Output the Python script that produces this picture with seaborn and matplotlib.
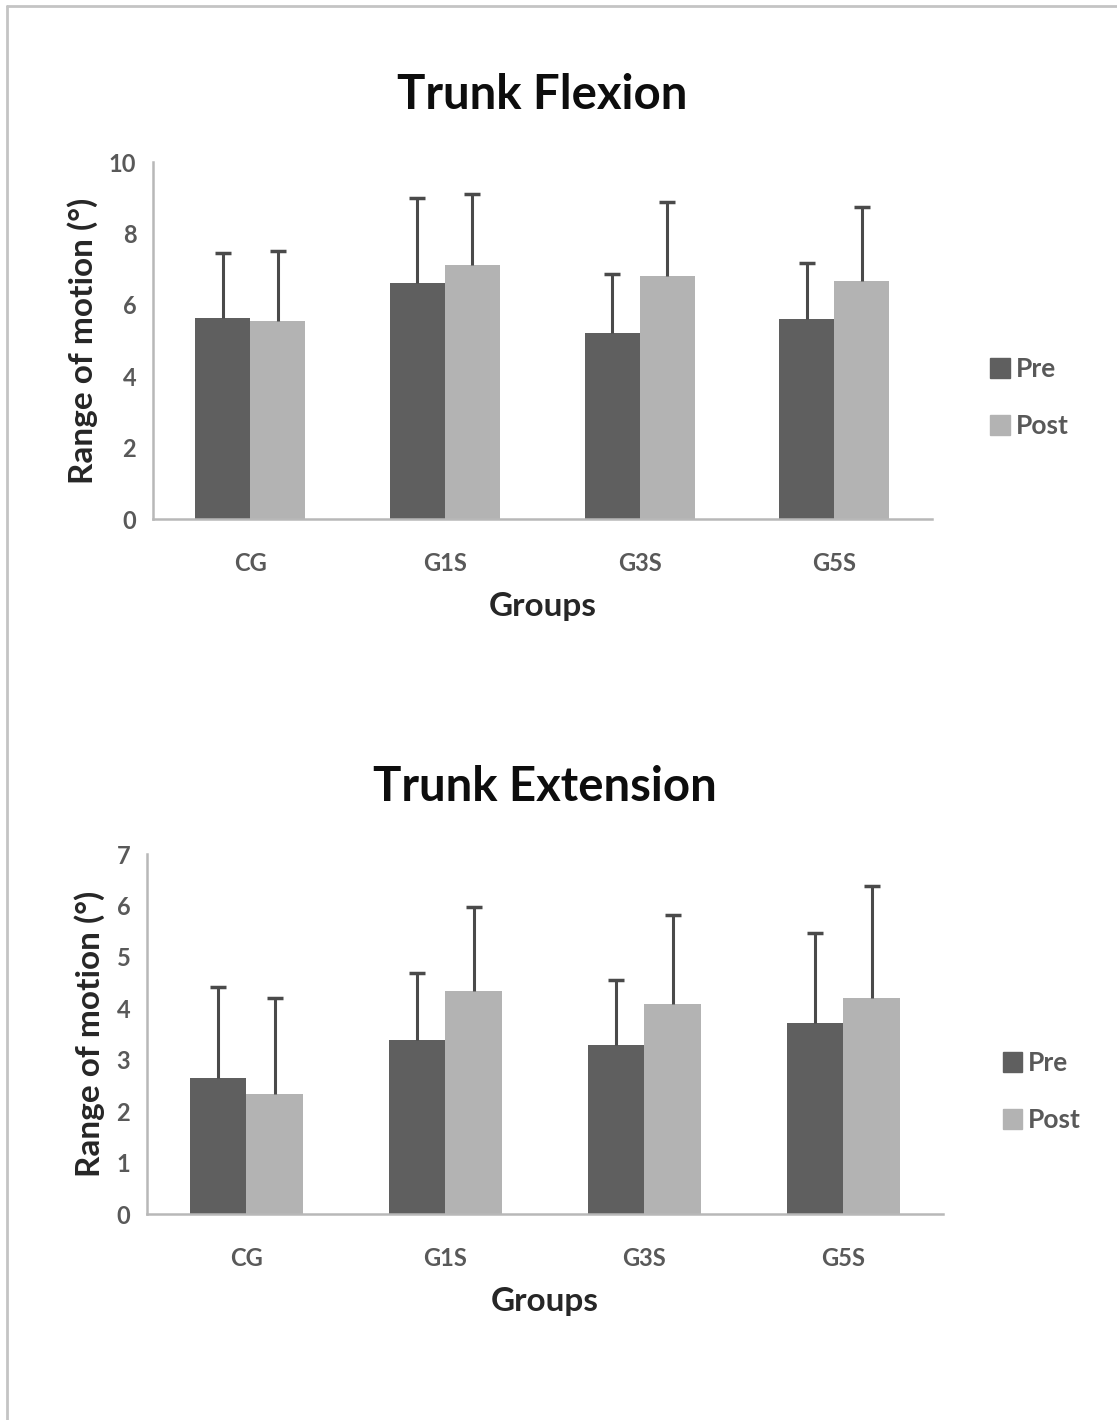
import matplotlib
matplotlib.use('Agg')
import matplotlib.pyplot as plt
import seaborn as sns
import pandas as pd
from matplotlib.lines import Line2D
from matplotlib.patches import Patch

groups = ['CG', 'G1S', 'G3S', 'G5S']
phases = ['Pre', 'Post']

flex_pre = [5.63, 6.61, 5.21, 5.60]
flex_post = [5.55, 7.11, 6.80, 6.67]
flex_pre_sd = [1.82, 2.39, 1.65, 1.57]
flex_post_sd = [1.95, 1.99, 2.08, 2.07]

ext_pre = [2.65, 3.38, 3.29, 3.72]
ext_post = [2.33, 4.34, 4.09, 4.20]
ext_pre_sd = [1.77, 1.31, 1.26, 1.75]
ext_post_sd = [1.87, 1.63, 1.73, 2.18]

colors = {'Pre': '#5f5f5f', 'Post': '#b3b3b3'}
tick_color = '#595959'
font = ['Lato', 'DejaVu Sans']

sns.set_style('white')
plt.rcParams['font.family'] = font


def draw_panel(ax, pre, post, pre_sd, post_sd, title, ymax):
    df = pd.DataFrame({
        'Group': groups * 2,
        'Phase': ['Pre'] * 4 + ['Post'] * 4,
        'Value': pre + post,
    })
    sns.barplot(data=df, x='Group', y='Value', hue='Phase', order=groups,
                hue_order=phases, palette=colors, width=0.565, gap=0,
                errorbar=None, saturation=1, linewidth=0, ax=ax, legend=False)
    for cont, sd, vals in zip(ax.containers, [pre_sd, post_sd], [pre, post]):
        xs = [b.get_x() + b.get_width() / 2 for b in cont]
        eb = ax.errorbar(xs, vals, yerr=[[0] * len(sd), sd], fmt='none',
                         ecolor='#4a4a4a', elinewidth=2.2, capsize=6, capthick=2.5)
        eb[1][0].set_visible(False)  # no cap on top of the bar
    ax.set_ylim(0, ymax)
    ax.set_xlim(-0.5, 3.5)
    ax.set_yticks(range(0, ymax + 1, 2 if ymax == 10 else 1))
    sns.despine(ax=ax)
    for s in ['left', 'bottom']:
        ax.spines[s].set_color('#b8b8b8')
        ax.spines[s].set_linewidth(1.8)
    ax.tick_params(axis='y', direction='out', length=6, width=1.2,
                   color='#b8b8b8', labelsize=17, labelcolor=tick_color, pad=6)
    ax.tick_params(axis='x', length=0, labelsize=17, labelcolor=tick_color, pad=24)
    for lbl in ax.get_xticklabels() + ax.get_yticklabels():
        lbl.set_fontweight('bold')
    ax.set_xlabel('Groups', fontsize=24, fontweight='bold', color='#262626', labelpad=12)
    ax.set_ylabel('Range of motion (°)', fontsize=24, fontweight='bold',
                  color='#262626', labelpad=8)
    ax.set_title(title, fontsize=34, fontweight='bold', color='#0d0d0d', pad=38)
    handles = [Patch(color=colors[p], label=p) for p in phases]
    leg = ax.legend(handles=handles, loc='center left', bbox_to_anchor=(1.045, 0.34),
                    frameon=False, fontsize=19, handlelength=0.75, handleheight=0.75,
                    handletextpad=0.2, labelspacing=1.25)
    for t in leg.get_texts():
        t.set_color(tick_color)
        t.set_fontweight('bold')


fig = plt.figure(figsize=(11.17, 14.2), dpi=100)
ax1 = fig.add_axes([0.137, 0.6345, 0.697, 0.2514])
ax2 = fig.add_axes([0.1316, 0.145, 0.7126, 0.2535])

draw_panel(ax1, flex_pre, flex_post, flex_pre_sd, flex_post_sd, 'Trunk Flexion', 10)
draw_panel(ax2, ext_pre, ext_post, ext_pre_sd, ext_post_sd, 'Trunk Extension', 7)

# thin grey frame on the top and left edges
fig.add_artist(Line2D([0.0063, 0.0063], [0, 0.9958], transform=fig.transFigure,
                      color='#c4c4c4', linewidth=2))
fig.add_artist(Line2D([0.0063, 1], [0.9958, 0.9958], transform=fig.transFigure,
                      color='#c4c4c4', linewidth=2))

fig.savefig('out.png', dpi=100, facecolor='white')
